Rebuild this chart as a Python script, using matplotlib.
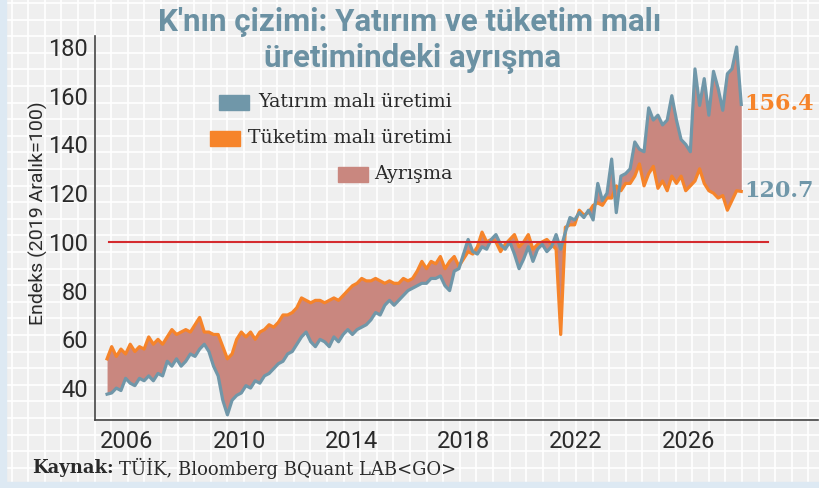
import numpy as np
import matplotlib.pyplot as plt
from matplotlib.patches import Rectangle

# Figure size in pixels
W, H = 820, 488

# Data (endeks, 2019 Aralık=100)
start_year = 2005.29
step = 0.165

tuketim = [52, 57, 53, 56, 54, 58, 55, 57, 56, 61,
           58, 60, 58, 61, 64, 62, 63, 64, 63, 66,
           69, 63, 63, 62, 62, 57, 52, 54, 60, 63,
           61, 63, 60, 63, 64, 66, 65, 67, 70, 70,
           71, 73, 77, 76, 75, 76, 76, 75, 76, 77,
           76, 78, 80, 82, 83, 85, 84, 84, 85, 84,
           83, 84, 83, 83, 85, 84, 85, 88, 92, 89,
           92, 91, 94, 89, 92, 94, 90, 93, 96, 95,
           98, 104, 100, 101, 100, 96, 99, 101, 103, 98,
           100, 103, 97, 99, 100, 101, 99, 97, 62, 106,
           107, 107, 113, 111, 112, 115, 116, 115, 118, 118,
           123, 121, 124, 124, 127, 132, 123, 128, 131, 122,
           125, 121, 127, 124, 127, 121, 123, 125, 130, 124,
           121, 120, 118, 119, 113, 117, 121, 120.7]

yatirim = [37.5, 38, 40, 39, 44, 42, 41, 44, 43, 45,
           43, 46, 45, 51, 49, 52, 49, 51, 54, 53,
           56, 58, 55, 49, 45, 35, 29, 35, 37, 38,
           41, 40, 43, 42, 45, 46, 48, 50, 51, 54,
           55, 58, 61, 63, 59, 57, 60, 59, 57, 61,
           59, 62, 64, 62, 64, 65, 66, 68, 71, 70,
           74, 76, 74, 76, 78, 80, 81, 82, 83, 83,
           85, 85, 86, 82, 80, 88, 89, 95, 101, 96,
           95, 98, 97, 101, 103, 99, 97, 100, 95, 89,
           93, 98, 92, 97, 99, 96, 98, 103, 97, 104,
           110, 109, 112, 110, 113, 109, 124, 117, 120, 134,
           112, 127, 128, 130, 141, 138, 137, 155, 150, 152,
           148, 150, 160, 150, 142, 140, 137, 171, 156, 167,
           152, 170, 163, 154, 169, 171, 180, 156.4]

yticks = [40, 60, 80, 100, 120, 140, 160, 180]
xticks = [2006, 2010, 2014, 2018, 2022, 2026]
ref_level = 100

BLUE = '#7097a9'
ORANGE = '#f6842a'
FILL = '#c9877f'
TITLE = '#6b91a3'
RED = '#d42a2e'
TEXT = '#2a2a2a'

years = start_year + np.arange(len(tuketim)) * step


def px(x, y):
    # pixel position -> figure fraction
    return x / W, 1 - y / H


fig = plt.figure(figsize=(W / 100, H / 100), dpi=100)

# graph-paper background
bg = fig.add_axes([0, 0, 1, 1])
bg.set_xlim(0, W)
bg.set_ylim(H, 0)
bg.axis('off')
bg.add_patch(Rectangle((0, 0), W, H, color='#efefef', zorder=0))
for gx in np.arange(-5, W, 16.6):
    bg.plot([gx, gx], [0, H], color='white', lw=1.2, zorder=1)
for gy in np.arange(3, H, 16.6):
    bg.plot([0, W], [gy, gy], color='white', lw=1.2, zorder=1)
bg.add_patch(Rectangle((0, 0), 6, H, color='#dde9f3', zorder=2))
bg.add_patch(Rectangle((0, 482), W, 6, color='#dde9f3', zorder=2))

# main axes
ax = fig.add_axes([95 / W, (H - 420) / H, (818 - 95) / W, (420 - 36) / H])
ax.patch.set_alpha(0)
ax.set_xlim(2004.86, 2030.63)
ax.set_ylim(26.9, 184.5)

ax.fill_between(years, tuketim, yatirim, color=FILL, lw=0, zorder=2)
ax.plot(years, tuketim, color=ORANGE, lw=2.3, zorder=3)
ax.plot(years, yatirim, color=BLUE, lw=2.3, zorder=4)
ax.plot([2005.36, 2028.85], [ref_level, ref_level], color=RED, lw=1.5, zorder=5)

for s in ['top', 'right']:
    ax.spines[s].set_visible(False)
for s in ['left', 'bottom']:
    ax.spines[s].set_color('#444444')
    ax.spines[s].set_linewidth(1.2)

sans = ['Roboto', 'DejaVu Sans']
ax.set_yticks(yticks)
ax.set_xticks(xticks)
ax.tick_params(length=0, labelsize=17, colors=TEXT)
ax.tick_params(axis='y', pad=5)
ax.tick_params(axis='x', pad=7)
for lab in ax.get_xticklabels() + ax.get_yticklabels():
    lab.set_family(sans)
    lab.set_color(TEXT)

fig.text(*px(38, 213), 'Endeks (2019 Aralık=100)', rotation=90,
         ha='center', va='center', fontsize=14, color=TEXT, family=sans)

# end labels
serif = ['DejaVu Serif']
ax.annotate('156.4', (years[-1], yatirim[-1]), xytext=(2, 0),
            textcoords='offset points', ha='left', va='center',
            fontsize=16, fontweight='bold', color=ORANGE, family=serif)
ax.annotate('120.7', (years[-1], tuketim[-1]), xytext=(2, 0),
            textcoords='offset points', ha='left', va='center',
            fontsize=16, fontweight='bold', color=BLUE, family=serif)

# title
fig.text(*px(410, 22), "K'nın çizimi: Yatırım ve tüketim malı",
         ha='center', va='center', fontsize=22.5, fontweight='bold',
         color=TITLE, family=sans)
fig.text(*px(413, 58), 'üretimindeki ayrışma',
         ha='center', va='center', fontsize=22.5, fontweight='bold',
         color=TITLE, family=sans)

# legend drawn by hand
legend_items = [
    ('Yatırım malı üretimi', BLUE, 219, 102),
    ('Tüketim malı üretimi', ORANGE, 210, 138),
    ('Ayrışma', FILL, 338, 174),
]
for label, col, x0, yc in legend_items:
    bg.add_patch(Rectangle((x0, yc - 7.5), 30, 15, color=col, zorder=3))
    fig.text(*px(452, yc), label, ha='right', va='center', fontsize=13.7,
             color=TEXT, family=serif)

# source line
src_bold = fig.text(*px(32, 468), 'Kaynak:', ha='left', va='center',
                    fontsize=13, fontweight='bold', color=TEXT,
                    family=serif)
renderer = fig.canvas.get_renderer()
bb = src_bold.get_window_extent(renderer)
fig.text((bb.x1 + 5) / W, 1 - 468 / H, 'TÜİK, Bloomberg BQuant LAB<GO>',
         ha='left', va='center', fontsize=13, color=TEXT, family=serif)

fig.savefig('out.png', dpi=100)
